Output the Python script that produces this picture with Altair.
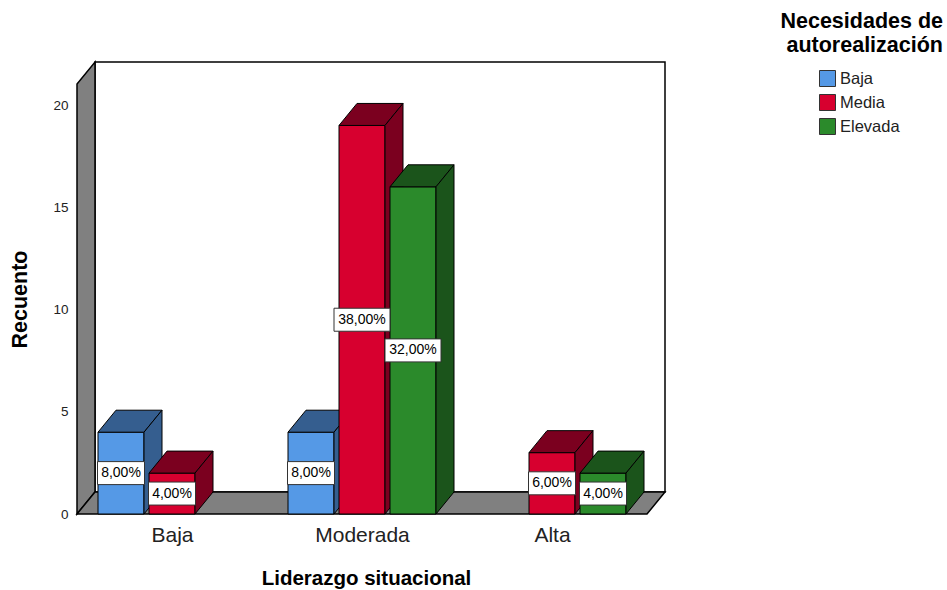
import altair as alt
import pandas as pd

# ---- data -------------------------------------------------------------
categories = ["Baja", "Moderada", "Alta"]           # Liderazgo situacional
groups = ["Baja", "Media", "Elevada"]               # Necesidades de autorealización
counts_baja = [4, 4, 0]
counts_media = [2, 19, 3]
counts_elevada = [0, 16, 2]
y_ticks = [0, 5, 10, 15, 20]

front_colors = ["#5599e6", "#d7002f", "#2b8a2b"]
shade_colors = ["#355e8f", "#7b001f", "#1b541b"]

counts = {"Baja": counts_baja, "Media": counts_media, "Elevada": counts_elevada}
total = sum(sum(v) for v in counts.values())

# ---- pseudo-3D geometry (in scale units) ------------------------------
PX_CAT = 190.0          # pixels per category band
PX_UNIT = 20.45         # pixels per count
DEPTH_X_PX, DEPTH_Y_PX = 18.0, 22.0
W = int(3 * PX_CAT + DEPTH_X_PX)
H = 452
YTOP = H / PX_UNIT
DX = DEPTH_X_PX / PX_CAT
DY = DEPTH_Y_PX / PX_UNIT
BAR_W = 46 / PX_CAT
STEP = 51 / PX_CAT

front_rows, top_rows, side_rows, label_rows = [], [], [], []
for j, g in enumerate(groups):
    for i, c in enumerate(categories):
        v = counts[g][i]
        if v == 0:
            continue
        bid = f"{g}-{c}"
        xl = i + 0.5 + (j - 1) * STEP - BAR_W / 2
        xr = xl + BAR_W
        front_rows.append(dict(grp=g, bid=bid, xl=xl, xr=xr, y0=0.0, y1=v))
        top_rows += [dict(grp=g, bid=bid, yy=v, xa=xl, xb=xr),
                     dict(grp=g, bid=bid, yy=v + DY, xa=xl + DX, xb=xr + DX)]
        side_rows += [dict(grp=g, bid=bid, xx=xr, ya=0.0, yb=v),
                      dict(grp=g, bid=bid, xx=xr + DX, ya=DY, yb=v + DY)]
        txt = f"{v / total * 100:.2f}".replace(".", ",") + "%"
        hw = (9 * len(txt) + 2) / 2 / PX_CAT
        hh = 11.5 / PX_UNIT
        xc = (xl + xr) / 2
        label_rows.append(dict(grp=g, txt=txt, xc=xc, yc=v / 2,
                               bx0=xc - hw, bx1=xc + hw, by0=v / 2 - hh, by1=v / 2 + hh))

front = pd.DataFrame(front_rows)
top = pd.DataFrame(top_rows)
side = pd.DataFrame(side_rows)
labels = pd.DataFrame(label_rows)

FONT = "Liberation Sans"
cat_expr = "[" + ",".join(f"'{c}'" for c in categories) + "][floor(datum.value)]"

xs = alt.Scale(domain=[0, 3 + DX], nice=False, zero=False)
ys = alt.Scale(domain=[0, YTOP], nice=False, zero=False)
x_axis = alt.Axis(
    values=[0.5, 1.5, 2.5], labelExpr=cat_expr, title="Liderazgo situacional",
    domain=False, ticks=False, grid=False, labelFontSize=21, labelFont=FONT,
    labelColor="#222", labelPadding=10, titleFont=FONT, titleFontSize=20.5,
    titleFontWeight="bold", titleColor="black", titlePadding=23, titleX=289)
y_axis = alt.Axis(
    values=y_ticks, title="Recuento", domain=False, ticks=False, grid=False,
    labelFontSize=13.5, labelFont=FONT, labelColor="#222", labelPadding=9,
    titleFont=FONT, titleFontSize=21.5, titleFontWeight="bold", titleColor="black",
    titlePadding=21, titleY=237)


def X(field):
    return alt.X(field, scale=xs, axis=x_axis)


def Y(field):
    return alt.Y(field, scale=ys, axis=y_axis)


# ---- walls ------------------------------------------------------------
wall_df = pd.DataFrame([dict(x0=DX, x1=3 + DX, y0=DY, y1=YTOP)])
back_wall = alt.Chart(wall_df).mark_rect(fill="white", stroke="black", strokeWidth=1.5).encode(
    x=X("x0:Q"), x2="x1:Q", y=Y("y0:Q"), y2="y1:Q",
)

left_df = pd.DataFrame([dict(x=0.0, ya=0.0, yb=YTOP - DY), dict(x=DX, ya=DY, yb=YTOP)])
left_wall = alt.Chart(left_df).mark_area(fill="#808080", stroke="black", strokeWidth=1.5).encode(
    x=X("x:Q"), y=Y("ya:Q"), y2="yb:Q",
)

floor_df = pd.DataFrame([dict(y=0.0, xa=0.0, xb=3.0), dict(y=DY, xa=DX, xb=3 + DX)])
floor = alt.Chart(floor_df).mark_area(orient="horizontal", fill="#808080",
                                     stroke="black", strokeWidth=1.5).encode(
    y=Y("y:Q"), x=X("xa:Q"), x2="xb:Q",
)

# ---- bars, one series at a time so later series overlap earlier ones ---
color = alt.Color("grp:N", scale=alt.Scale(domain=groups, range=front_colors),
                  legend=alt.Legend(title=None, orient="none", legendX=742, legendY=8,
                                    symbolType="square", symbolSize=256,
                                    symbolStrokeColor="#333", symbolStrokeWidth=1,
                                    labelFont=FONT, labelFontSize=16.5, labelColor="#222",
                                    labelOffset=4, rowPadding=3))
bar_layers = []
for j, g in enumerate(groups):
    f = front[front.grp == g]
    t = top[top.grp == g]
    s = side[side.grp == g]
    bar_layers.append(alt.Chart(f).mark_rect(stroke="black", strokeWidth=1).encode(
        x=X("xl:Q"), x2="xr:Q", y=Y("y0:Q"), y2="y1:Q", color=color))
    bar_layers.append(alt.Chart(t).mark_area(orient="horizontal", fill=shade_colors[j],
                                             stroke="black", strokeWidth=1).encode(
        y=Y("yy:Q"), x=X("xa:Q"), x2="xb:Q", detail="bid:N"))
    bar_layers.append(alt.Chart(s).mark_area(fill=shade_colors[j],
                                             stroke="black", strokeWidth=1).encode(
        x=X("xx:Q"), y=Y("ya:Q"), y2="yb:Q", detail="bid:N"))

# ---- percentage labels -------------------------------------------------
label_box = alt.Chart(labels).mark_rect(fill="white", stroke="#333", strokeWidth=1).encode(
    x=X("bx0:Q"), x2="bx1:Q", y=Y("by0:Q"), y2="by1:Q",
)
label_txt = alt.Chart(labels).mark_text(font=FONT, fontSize=14, color="black",
                                        align="center", baseline="middle").encode(
    x=X("xc:Q"), y=Y("yc:Q"), text="txt:N",
)

chart = alt.layer(back_wall, left_wall, floor, *bar_layers, label_box, label_txt).properties(
    width=W, height=H,
    autosize=alt.AutoSizeParams(type="none"),
    padding={"left": 77, "top": 62, "right": 947 - 77 - W, "bottom": 590 - 62 - H},
    title=alt.TitleParams(text=["Necesidades de", "autorealización"], anchor="end",
                          frame="group", font=FONT, fontSize=21.5, fontWeight="bold",
                          color="black", dx=278, offset=3, lineHeight=24),
).configure_view(stroke=None)

chart.save("out.html", embed_options={"renderer": "svg", "actions": False})
